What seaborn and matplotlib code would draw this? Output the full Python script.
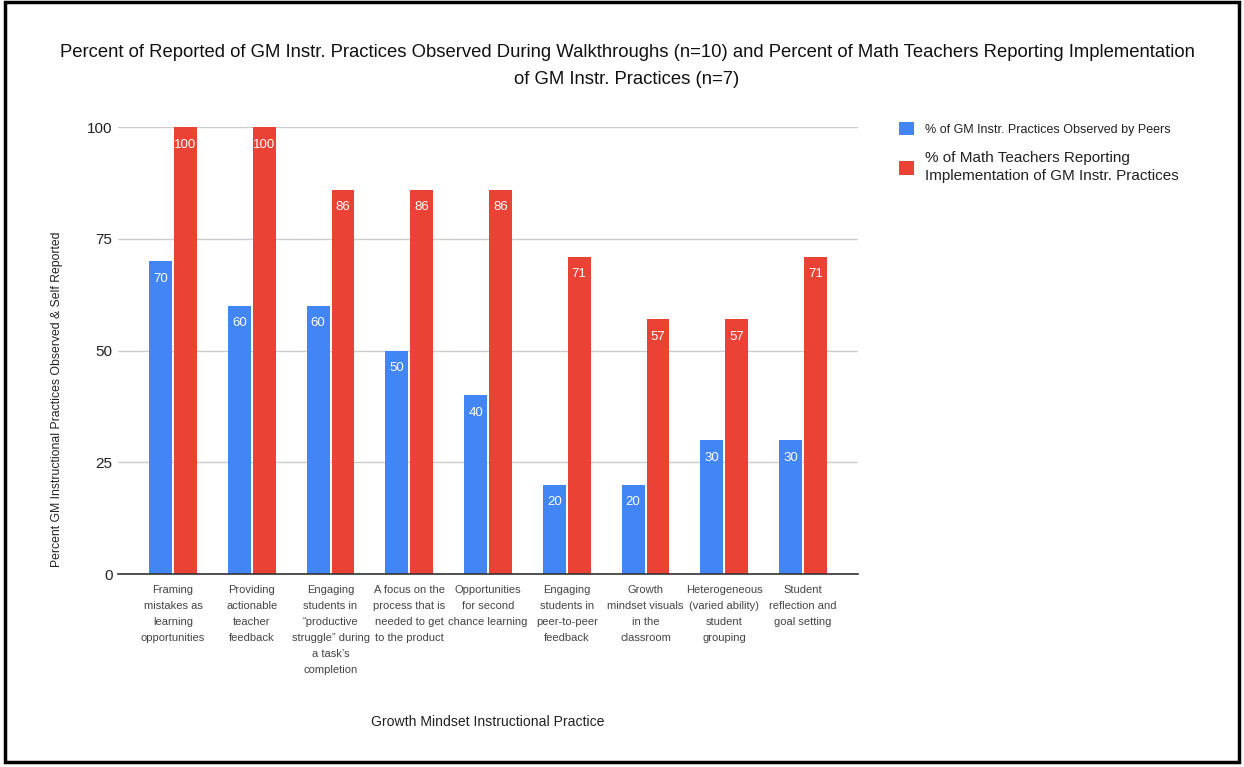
import matplotlib
matplotlib.use("Agg")
import matplotlib.pyplot as plt
import seaborn as sns
import pandas as pd
from matplotlib.patches import Rectangle

categories = [
    "Framing\nmistakes as\nlearning\nopportunities",
    "Providing\nactionable\nteacher\nfeedback",
    "Engaging\nstudents in\n\u201cproductive\nstruggle\u201d during\na task\u2019s\ncompletion",
    "A focus on the\nprocess that is\nneeded to get\nto the product",
    "Opportunities\nfor second\nchance learning",
    "Engaging\nstudents in\npeer-to-peer\nfeedback",
    "Growth\nmindset visuals\nin the\nclassroom",
    "Heterogeneous\n(varied ability)\nstudent\ngrouping",
    "Student\nreflection and\ngoal setting",
]
series_names = [
    "% of GM Instr. Practices Observed by Peers",
    "% of Math Teachers Reporting\nImplementation of GM Instr. Practices",
]
observed = [70, 60, 60, 50, 40, 20, 20, 30, 30]
reported = [100, 100, 86, 86, 86, 71, 57, 57, 71]
y_ticks = [0, 25, 50, 75, 100]
colors = ["#4285F4", "#EA4335"]

df = pd.DataFrame({
    "practice": categories * 2,
    "series": [series_names[0]] * len(categories) + [series_names[1]] * len(categories),
    "value": observed + reported,
})

sns.set_theme(style="white")
plt.rcParams["font.family"] = ["Liberation Sans", "DejaVu Sans"]

fig = plt.figure(figsize=(12.44, 7.67), dpi=100)
ax = fig.add_axes([0.0949, 0.2516, 0.5948, 0.5828])

sns.barplot(data=df, x="practice", y="value", hue="series", order=categories,
            hue_order=series_names, palette=colors, width=0.63, gap=0.08,
            saturation=1, linewidth=0, ax=ax, legend=True)

for container in ax.containers:
    ax.bar_label(container, fmt="%d", padding=-17, color="white", fontsize=9.5)

ax.set_ylim(0, 100)
ax.set_xlim(-0.698, 8.698)
ax.set_yticks(y_ticks)
ax.set_yticklabels([str(t) for t in y_ticks], fontsize=11, color="#222222")
ax.set_xticks(range(len(categories)))
ax.set_xticklabels(categories, fontsize=8, color="#444444", linespacing=1.75,
                   verticalalignment="top")
ax.yaxis.grid(True, color="#cccccc", linewidth=1)
ax.set_axisbelow(True)
for side in ["top", "right", "left"]:
    ax.spines[side].set_visible(False)
ax.spines["bottom"].set_color("#333333")
ax.spines["bottom"].set_linewidth(1.2)
ax.tick_params(axis="y", length=0, pad=4)
ax.tick_params(axis="x", length=0, pad=8)

ax.set_xlabel("Growth Mindset Instructional Practice", fontsize=10.1, color="#222222", labelpad=0)
ax.xaxis.set_label_coords(0.5, -0.315)
ax.set_ylabel("Percent GM Instructional Practices Observed & Self Reported", fontsize=8.8, color="#222222")
ax.yaxis.set_label_coords(-0.074, 0.39)

fig.suptitle("Percent of Reported of GM Instr. Practices Observed During Walkthroughs (n=10) and Percent of Math Teachers Reporting Implementation\nof GM Instr. Practices (n=7)",
             x=0.504, y=0.943, fontsize=13.3, color="#111111", linespacing=1.8)

handles, labels = ax.get_legend_handles_labels()
leg = ax.legend(handles, labels, loc="upper left", bbox_to_anchor=(1.038, 1.04),
                frameon=False, fontsize=10, handlelength=1.1, handleheight=1.1,
                handletextpad=0.8, labelspacing=1.1, labelcolor="#222222")
texts = leg.get_texts()
texts[0].set_fontsize(9)
texts[1].set_fontsize(11)
texts[1].set_linespacing(1.35)

fig.patches.append(Rectangle((0.004, 0.006), 0.992, 0.992, transform=fig.transFigure,
                             fill=False, edgecolor="black", linewidth=2.5))

fig.savefig("out.png", dpi=100, facecolor="white")
